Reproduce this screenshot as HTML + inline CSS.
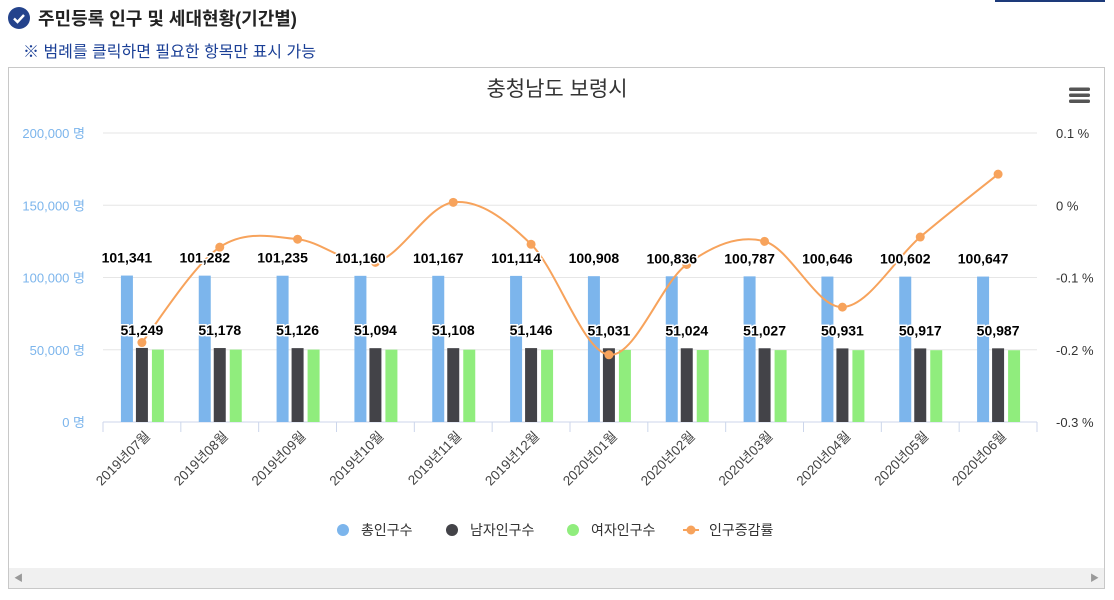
<!DOCTYPE html>
<html><head><meta charset="utf-8"><style>
body{margin:0;width:1114px;height:600px;background:#fff;font-family:"Liberation Sans","Noto Sans CJK KR",sans-serif;overflow:hidden;position:relative}
</style></head><body>
<div style="position:absolute;left:995px;top:0;width:110px;height:2px;background:#1d3a7a"></div>
<div style="position:absolute;left:8px;top:5px;height:26px;display:flex;align-items:center;font-size:18px;font-weight:bold;color:#222">
<svg width="22" height="22" style="margin-right:8px"><circle cx="11" cy="11" r="11" fill="#24438c"/><path d="M6 11.5l3.5 3.5 6.5-7" stroke="#fff" stroke-width="2.4" fill="none"/></svg>주민등록 인구 및 세대현황(기간별)</div>
<div style="position:absolute;left:23px;top:38px;font-size:16px;color:#1a3f96">※ 범례를 클릭하면 필요한 항목만 표시 가능</div>
<div style="position:absolute;left:8px;top:67px;width:1097px;height:522px;border:1px solid #c8c8c8;box-sizing:border-box"></div>
<div style="position:absolute;left:9px;top:568px;width:1095px;height:20px;background:#f0f0f0"><span style="position:absolute;left:5px;top:3px;font-size:9px;color:#999">◀</span><span style="position:absolute;right:5px;top:3px;font-size:9px;color:#999">▶</span></div>
<svg id="chart" width="1114" height="600" style="position:absolute;left:0;top:0"></svg>
<script>
const categories=["2019년07월","2019년08월","2019년09월","2019년10월","2019년11월","2019년12월","2020년01월","2020년02월","2020년03월","2020년04월","2020년05월","2020년06월"];
const totalPop=[101341,101282,101235,101160,101167,101114,100908,100836,100787,100646,100602,100647];
const malePop=[51249,51178,51126,51094,51108,51146,51031,51024,51027,50931,50917,50987];
const femalePop=[50092,50104,50109,50066,50059,49968,49877,49812,49760,49715,49685,49660];
const rateVals=[-0.19,-0.058,-0.047,-0.079,0.004,-0.054,-0.207,-0.082,-0.05,-0.141,-0.044,0.043];
const leftTicks=[0,50000,100000,150000,200000];
const rightTicks=[-0.3,-0.2,-0.1,0,0.1];
const NS="http://www.w3.org/2000/svg",svg=document.getElementById('chart');
const X0=103,X1=1037,Y0=422,Y1=133,cw=(X1-X0)/categories.length;
const yL=v=>Y0-(v/200000)*(Y0-Y1);
const yR=v=>Y0-((v+0.3)/0.4)*(Y0-Y1);
const xC=i=>X0+cw*(i+0.5);
function mk(t,a,p){const e=document.createElementNS(NS,t);for(const k in a)e.setAttribute(k,a[k]);(p||svg).appendChild(e);return e;}
const fmt=n=>n.toLocaleString('en-US');
let t=mk('text',{x:557,y:96,'text-anchor':'middle','font-size':21,fill:'#333'});t.textContent='충청남도 보령시';


const menu=mk('g',{});


[89,95,101].forEach(y=>mk('rect',{x:1069,y:y-1.5,width:21,height:3.5,rx:1.5,fill:'#555'},menu));
leftTicks.forEach(v=>{const g=mk('line',{x1:X0,x2:X1,y1:yL(v),y2:yL(v),stroke:v?'#e6e6e6':'#ccd6eb'});


const l=mk('text',{x:85,y:yL(v)+5,'text-anchor':'end','font-size':13,fill:'#7cb5ec'});l.textContent=fmt(v)+' 명';

});
rightTicks.forEach(v=>{const l=mk('text',{x:1056,y:yR(v)+5,'font-size':13,fill:'#333'});l.textContent=(Math.round(v*10)/10)+' %';

});
for(let i=0;i<=categories.length;i++){mk('line',{x1:X0+cw*i,x2:X0+cw*i,y1:Y0,y2:Y0+10,stroke:'#ccd6eb'});}
categories.forEach((c,i)=>{const x=xC(i);
const l=mk('text',{x:x+9,y:437,'text-anchor':'end','font-size':13.5,fill:'#444',transform:`rotate(-45 ${x+9} 437)`});l.textContent=c;


[[totalPop,'#7cb5ec',-15],[malePop,'#434348',0],[femalePop,'#90ed7d',16]].forEach(([arr,col,off])=>{
const b=mk('rect',{x:x+off-6,y:yL(arr[i]),width:12,height:Y0-yL(arr[i]),fill:col});

});
});
const pts=rateVals.map((v,i)=>[xC(i),yR(v)]);
let d=`M${pts[0][0]},${pts[0][1]}`;
for(let i=0;i<pts.length-1;i++){const p0=pts[Math.max(0,i-1)],p1=pts[i],p2=pts[i+1],p3=pts[Math.min(pts.length-1,i+2)];
d+=` C${p1[0]+(p2[0]-p0[0])/6},${p1[1]+(p2[1]-p0[1])/6} ${p2[0]-(p3[0]-p1[0])/6},${p2[1]-(p3[1]-p1[1])/6} ${p2[0]},${p2[1]}`;}
const ln=mk('path',{d,fill:'none',stroke:'#f7a35c','stroke-width':2});


pts.forEach(p=>{const c=mk('circle',{cx:p[0],cy:p[1],r:4.5,fill:'#f7a35c'});

});
categories.forEach((c,i)=>{const x=xC(i);
[[totalPop,-15],[malePop,0]].forEach(([arr,off])=>{
const l=mk('text',{x:x+off,y:yL(arr[i])-13,'text-anchor':'middle','font-size':14,'font-weight':'bold',fill:'#000',stroke:'#fff','stroke-width':3,'paint-order':'stroke'});l.textContent=fmt(arr[i]);

});});
const legend=[['총인구수','#7cb5ec',343],['남자인구수','#434348',452],['여자인구수','#90ed7d',573],['인구증감률','#f7a35c',691]];
legend.forEach(([n,c,x],i)=>{const g=mk('g',{});


if(i<3)mk('circle',{cx:x,cy:530,r:6,fill:c},g);else{mk('line',{x1:x-8,x2:x+8,y1:530,y2:530,stroke:c,'stroke-width':2},g);mk('circle',{cx:x,cy:530,r:4.5,fill:c},g);}
const l=mk('text',{x:x+18,y:535,'font-size':14,fill:'#333'},g);l.textContent=n;});
</script>
</body></html>
